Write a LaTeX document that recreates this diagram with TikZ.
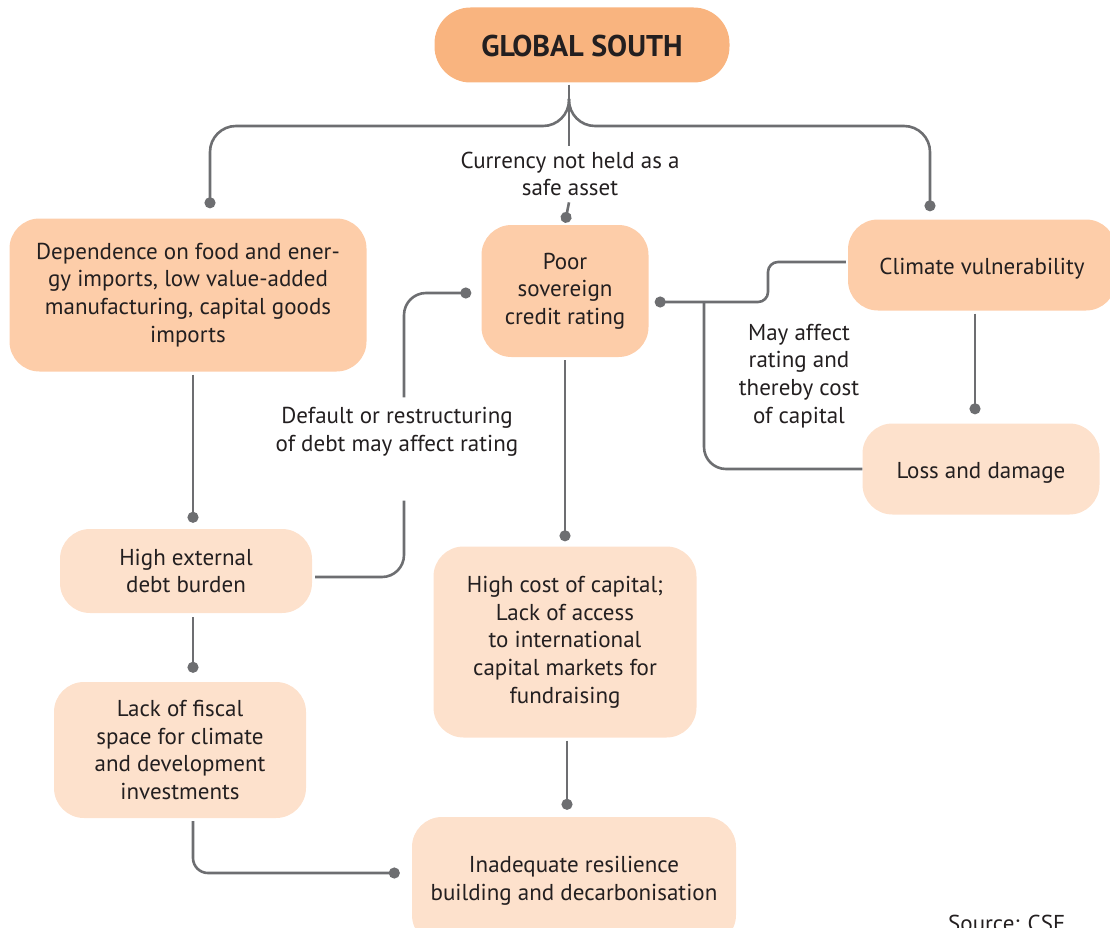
\documentclass[tikz,border=0pt]{standalone}
\usepackage{fontspec}
\setmainfont{PT Sans}
\usepackage[HTML]{xcolor}
\usepackage{tikz}
\usetikzlibrary{positioning, arrows, arrows.meta}

\definecolor{gsorange}{HTML}{F9B47F}
\definecolor{midorange}{HTML}{FDCDA9}
\definecolor{paleorange}{HTML}{FDE1CC}
\definecolor{linkgray}{HTML}{6D6E71}
\definecolor{inkdark}{HTML}{231F20}

\begin{document}
\begin{tikzpicture}[x=1pt, y=-1pt,
    every node/.style={text=inkdark, font=\fontsize{23}{27.7}\selectfont},
    box/.style={rounded corners=30pt, align=center, inner sep=0pt,
        execute at begin node={\rule{0pt}{24pt}}},
    midbox/.style={box, fill=midorange},
    palebox/.style={box, fill=paleorange},
    note/.style={align=center, inner sep=0pt},
    link/.style={draw=linkgray, line width=2.6pt},
    dotlink/.style={link, -{Circle[length=11pt, width=11pt]}}] % Setting global styles

    \useasboundingbox (0,0) rectangle (1110,928);

    % 1. Define Nodes: top, then the three columns
    \node (gs) [box, fill=gsorange, rounded corners=36pt, minimum width=295pt, minimum height=75pt,
        execute at begin node={}, font=\fontsize{30}{34}\bfseries] at (582,45) {GLOBAL SOUTH};
    \node (dep) [midbox, minimum width=357pt, minimum height=153pt] at (188,295)
        {Dependence on food and ener-\\gy imports, low value-added\\manufacturing, capital goods\\imports};
    \node (poor) [midbox, minimum width=167pt, minimum height=132pt] at (565,291)
        {Poor\\sovereign\\credit rating};
    \node (clim) [midbox, minimum width=268pt, minimum height=91pt] at (982,265) {Climate vulnerability};
    \node (loss) [palebox, minimum width=237pt, minimum height=91pt] at (981,469) {Loss and damage};
    \node (debt) [palebox, minimum width=252pt, minimum height=84pt] at (186,571) {High external\\debt burden};
    \node (fiscal) [palebox, minimum width=252pt, minimum height=136pt] at (180,750)
        {Lack of fiscal\\space for climate\\and development\\investments};
    \node (cost) [palebox, minimum width=263pt, minimum height=191pt] at (565,642)
        {High cost of capital;\\Lack of access\\to international\\capital markets for\\fundraising};
    \node (inad) [palebox, minimum width=324pt, minimum height=128pt] at (574,881)
        {Inadequate resilience\\building and decarbonisation};

    % 2. Labels that sit on the lines
    \node (cur) [note, inner ysep=6pt] at (570,174) {Currency not held as a\\safe asset};
    \node (defl) [note, inner ysep=10pt] at (397,432) {Default or restructuring\\of debt may affect rating};
    \node (mayaff) [note] at (799,376) {May affect\\rating and\\thereby cost\\of capital};
    \node (src) [anchor=north west, inner sep=0pt] at (948,915) {Source: CSE};

    % 3. Helper points for the forks
    \coordinate (fork) at (569,99);
    \coordinate (bar) at (569,126);
    \coordinate (ldot) at ([xshift=22pt]dep.north);
    \coordinate (rdot) at ([xshift=-52pt]clim.north);
    \coordinate (bend) at (768,282);
    \coordinate (join) at (704,303);

    % 4. Draw the links from the top node
    \draw[link] ([xshift=-13pt,yshift=-2pt]gs.south) -- ([xshift=-1pt]cur.north);
    \draw[dotlink] ([xshift=-1pt]cur.south) -- ([yshift=2pt]poor.north);
    \draw[dotlink, rounded corners=26pt, shorten >=10pt] (fork) |- (ldot |- bar) -- (ldot);
    \draw[dotlink, rounded corners=26pt, shorten >=8pt] (fork) |- (rdot |- bar) -- (rdot);

    % 5. Left column
    \draw[dotlink] ([xshift=5pt,yshift=-3pt]dep.south) -- ([xshift=7pt,yshift=6pt]debt.north);
    \draw[dotlink] ([xshift=7pt,yshift=-4pt]debt.south) -- ([xshift=13pt,yshift=9pt]fiscal.north);
    \draw[dotlink, rounded corners=15pt] ([xshift=13pt,yshift=-3pt]fiscal.south) |- ([xshift=-12pt,yshift=8pt]inad.west);

    % 6. Debt back to rating (through the label)
    \draw[link, rounded corners=22pt] ([xshift=3pt,yshift=-6pt]debt.east) -| ([xshift=7pt,yshift=-34pt]defl.south);
    \draw[dotlink, rounded corners=22pt] ([xshift=7pt]defl.north) |- ([xshift=-10pt,yshift=-2pt]poor.west);

    % 7. Middle column
    \draw[dotlink] ([yshift=-3pt]poor.south) -- ([yshift=5pt]cost.north);
    \draw[dotlink] ([xshift=2pt,yshift=-3pt]cost.south) -- ([xshift=-7pt,yshift=7pt]inad.north);

    % 8. Right column
    \draw[dotlink, rounded corners=10pt] ([xshift=-2pt,yshift=3pt]clim.west) -| (bend) |- ([xshift=6pt,yshift=-11pt]poor.east);
    \draw[link, rounded corners=22pt] (loss.west) -| (join);
    \draw[dotlink] ([xshift=-7pt,yshift=-3pt]clim.south) -- ([xshift=-6pt,yshift=9pt]loss.north);
\end{tikzpicture}
\end{document}
